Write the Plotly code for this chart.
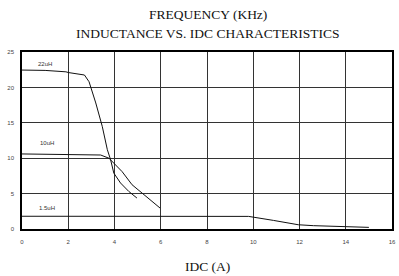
import plotly.graph_objects as go

x_22uH = [0, 1.0, 1.9, 2.0, 2.7, 2.9, 3.19, 3.47, 3.69, 3.83, 3.97, 4.26, 4.62, 4.97]
y_22uH = [22.45, 22.4, 22.2, 22.1, 21.75, 20.8, 17.8, 14.5, 11.2, 9.8, 7.9, 6.5, 5.3, 4.37]

x_10uH = [0, 1.0, 1.8, 3.0, 3.4, 3.76, 4.05, 4.33, 4.76, 5.26, 5.97]
y_10uH = [10.6, 10.55, 10.6, 10.5, 10.45, 10.0, 9.07, 8.1, 6.25, 4.84, 2.96]

x_1_5uH = [0, 4, 8, 9.8, 10.88, 11.95, 12.6, 14.0, 15.0]
y_1_5uH = [1.8, 1.8, 1.8, 1.78, 1.21, 0.6, 0.47, 0.28, 0.23]

labels = ["22uH", "10uH", "1.5uH"]
label_x = [1.0, 1.1, 1.1]
label_y = [23.3, 12.1, 2.9]

x_ticks = [0, 2, 4, 6, 8, 10, 12, 14, 16]
y_ticks = [0, 5, 10, 15, 20, 25]

W, H = 399, 276
ML, MR, MT, MB = 22, 3, 52, 47

fig = go.Figure()
for xs, ys in [(x_22uH, y_22uH), (x_10uH, y_10uH), (x_1_5uH, y_1_5uH)]:
    fig.add_trace(go.Scatter(x=xs, y=ys, mode="lines", line=dict(color="#111", width=1),
                             showlegend=False, hoverinfo="skip"))

for t, lx, ly in zip(labels, label_x, label_y):
    fig.add_annotation(x=lx, y=ly, text=t, showarrow=False, xref="x", yref="y",
                       font=dict(family="Liberation Sans, Arial", size=6, color="#333"))

serif = "Liberation Serif, Times New Roman, serif"
titles = [("FREQUENCY (KHz)", 14), ("INDUCTANCE VS. IDC CHARACTERISTICS", 33), ("IDC (A)", 266)]
plot_h = H - MT - MB
plot_w = W - ML - MR
for text, ypx in titles:
    fig.add_annotation(x=(210 - ML) / plot_w, y=(H - MB - ypx) / plot_h, xref="paper", yref="paper",
                       xanchor="center", yanchor="middle", text=text, showarrow=False,
                       font=dict(family=serif, size=13.5, color="#111"))

fig.update_layout(
    width=W, height=H,
    margin=dict(l=ML, r=MR, t=MT, b=MB),
    paper_bgcolor="white", plot_bgcolor="white",
    xaxis=dict(range=[0, 16], tickvals=x_ticks, showgrid=True, gridcolor="#333", gridwidth=1,
               showline=True, linecolor="#000", linewidth=1.5, mirror=True, zeroline=False,
               ticks="", ticklabelstandoff=6,
               tickfont=dict(family="Liberation Sans, Arial", size=6, color="#444")),
    yaxis=dict(range=[0, 25], tickvals=y_ticks, showgrid=True, gridcolor="#333", gridwidth=1,
               showline=True, linecolor="#000", linewidth=1.5, mirror=True, zeroline=False,
               ticks="", ticklabelstandoff=5,
               tickfont=dict(family="Liberation Sans, Arial", size=6, color="#444")),
)

fig.write_html("out.html", config={"displayModeBar": False},
               post_script="document.body.style.margin='0';document.body.style.overflow='hidden';")
